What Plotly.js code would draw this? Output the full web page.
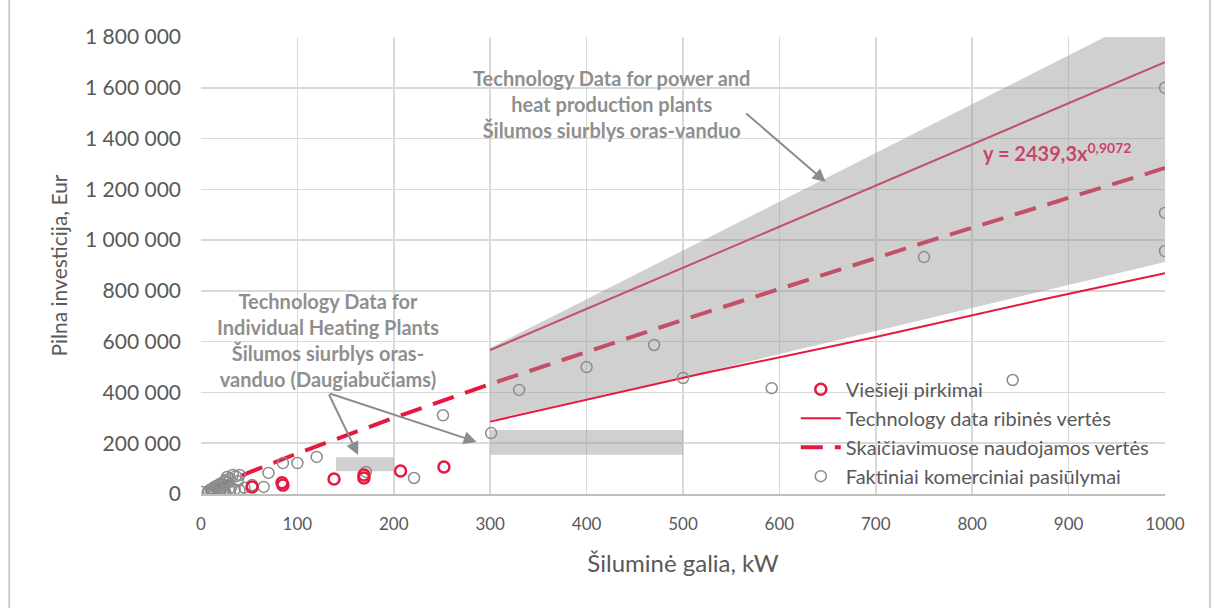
<!DOCTYPE html>
<html>
<head>
<meta charset="utf-8">
<script src="https://cdn.plot.ly/plotly-3.0.1.min.js"></script>
<style>html,body{margin:0;padding:0;background:#fff;}#chart{width:1218px;height:608px;}</style>
</head>
<body>
<div id="chart"></div>
<script>
// --- Data ---
const publicX = [53, 84, 85, 138, 169, 169, 207, 252];
const publicY = [28000, 44000, 35000, 59000, 75000, 63000, 91000, 106000];

const offerX = [1, 7, 8, 10, 11, 12, 13, 14, 15, 16, 17, 18, 19, 20, 21, 22, 23, 24, 25, 26, 27, 28, 30, 31, 33, 36, 38, 40, 20, 25, 30, 35, 40, 45,
  53, 65, 70, 85, 100, 120, 171, 221, 251, 301, 330, 400, 470, 500, 592, 750, 842, 1000, 1000, 1000];
const offerY = [8000, 6000, 12000, 18000, 8000, 22000, 15000, 28000, 10000, 32000, 20000, 25000, 38000, 20000, 42000, 30000, 12000, 48000, 35000, 55000, 67000, 45000, 60000, 25000, 75000, 70000, 50000, 75000, 5000, 8000, 10000, 18000, 15000, 25000,
  35000, 28000, 83000, 122000, 122000, 146000, 87000, 63000, 310000, 240000, 410000, 500000, 587000, 457000, 417000, 933000, 449000, 1600000, 1107000, 957000];

const calcX = [10, 50, 100, 200, 300, 500, 750, 1000];
const calcY = [20000, 85000, 160000, 300000, 433000, 686000, 990000, 1284000];

const techLowX = [300, 520, 700, 880, 1000];
const techLowY = [285000, 475000, 618000, 772000, 870000];
const techHighX = [300, 1000];
const techHighY = [567000, 1701000];

const bandX = [300, 1000, 1000, 700, 520, 300];
const bandY = [575000, 1920000, 914000, 640000, 478000, 290000];

const box1X = [140, 200, 200, 140];
const box1Y = [90000, 90000, 145000, 145000];
const box2X = [300, 500, 500, 300];
const box2Y = [155000, 155000, 252000, 252000];

const xTicks = [0, 100, 200, 300, 400, 500, 600, 700, 800, 900, 1000];
const yTicks = [0, 200000, 400000, 600000, 800000, 1000000, 1200000, 1400000, 1600000, 1800000];

const names = ['Viešieji pirkimai', 'Technology data ribinės vertės', 'Skaičiavimuose naudojamos vertės', 'Faktiniai komerciniai pasiūlymai'];

// --- Styles ---
const RED = '#E8173F';
const GRAYM = '#8C8C8C';
const BAND = 'rgba(150,150,150,0.45)';
const TXT = '#595959';

const traces = [
  {x: techHighX, y: techHighY, mode: 'lines', line: {color: RED, width: 2}, showlegend: false, legendgroup: 'tech', hoverinfo: 'skip'},
  {x: calcX, y: calcY, mode: 'lines', name: names[2], legendrank: 3, line: {color: RED, width: 4, dash: '22px,12px'}},
  {x: bandX, y: bandY, mode: 'lines', fill: 'toself', fillcolor: BAND, line: {width: 0}, showlegend: false, hoverinfo: 'skip'},
  {x: box1X, y: box1Y, mode: 'lines', fill: 'toself', fillcolor: BAND, line: {width: 0}, showlegend: false, hoverinfo: 'skip'},
  {x: box2X, y: box2Y, mode: 'lines', fill: 'toself', fillcolor: BAND, line: {width: 0}, showlegend: false, hoverinfo: 'skip'},
  {x: techLowX, y: techLowY, mode: 'lines', name: names[1], legendrank: 2, legendgroup: 'tech', line: {color: RED, width: 2}},
  {x: offerX, y: offerY, mode: 'markers', name: names[3], legendrank: 4, marker: {symbol: 'circle-open', size: 11, color: GRAYM, line: {width: 1.5}}},
  {x: publicX, y: publicY, mode: 'markers', name: names[0], legendrank: 1, marker: {symbol: 'circle-open', size: 11, color: RED, line: {width: 2.5}}}
];

const annFont = {family: 'Lato', size: 20, color: '#8F8F8F', weight: 'bold'};
const layout = {
  width: 1218, height: 608,
  margin: {l: 201, r: 53, t: 37, b: 114},
  paper_bgcolor: '#fff', plot_bgcolor: '#fff',
  separators: ', ',
  showlegend: true,
  legend: {x: 0.617, y: 0.272, xanchor: 'left', yanchor: 'top', bgcolor: 'rgba(0,0,0,0)',
    font: {family: 'Lato', size: 20, color: TXT}, tracegroupgap: 0, itemwidth: 40},
  xaxis: {range: [0, 1000], tickvals: xTicks, tickformat: 'd', showgrid: true, gridcolor: '#D9D9D9', gridwidth: 1.5,
    zeroline: false, showline: true, linecolor: '#BFBFBF', linewidth: 1.5, ticks: '',
    tickfont: {family: 'Lato', size: 17, color: TXT}, ticklabelstandoff: 14,
    title: {text: 'Šiluminė galia, kW', font: {family: 'Lato', size: 24, color: TXT}, standoff: 22}},
  yaxis: {range: [0, 1800000], tickvals: yTicks, tickformat: ',d', showgrid: true, gridcolor: '#D9D9D9', gridwidth: 1.5,
    zeroline: false, showline: false, ticks: '',
    tickfont: {family: 'Lato', size: 21, color: TXT}, ticklabelstandoff: 19,
    title: {text: 'Pilna investicija, Eur', font: {family: 'Lato', size: 21, color: TXT}, standoff: 11}},
  annotations: [
    {x: 426, y: 1536000, xref: 'x', yref: 'y', showarrow: false, align: 'center',
      text: 'Technology Data for power and<br>heat production plants<br>Šilumos siurblys oras-vanduo', font: annFont},
    {x: 132, y: 606000, xref: 'x', yref: 'y', showarrow: false, align: 'center',
      text: 'Technology Data for<br>Individual Heating Plants<br>Šilumos siurblys oras-<br>vanduo (Daugiabučiams)', font: annFont},
    {x: 648, y: 1229000, ax: 564, ay: 1504000, xref: 'x', yref: 'y', axref: 'x', ayref: 'y', text: '', showarrow: true,
      arrowhead: 2, arrowsize: 1.3, arrowwidth: 2, arrowcolor: GRAYM},
    {x: 163, y: 154000, ax: 132, ay: 398000, xref: 'x', yref: 'y', axref: 'x', ayref: 'y', text: '', showarrow: true,
      arrowhead: 2, arrowsize: 1.3, arrowwidth: 2, arrowcolor: GRAYM},
    {x: 286, y: 205000, ax: 132, ay: 398000, xref: 'x', yref: 'y', axref: 'x', ayref: 'y', text: '', showarrow: true,
      arrowhead: 2, arrowsize: 1.3, arrowwidth: 2, arrowcolor: GRAYM},
    {x: 888, y: 1347000, xref: 'x', yref: 'y', showarrow: false,
      text: 'y = 2439,3x<sup>0,9072</sup>', font: {family: 'Lato', size: 20, color: '#C9466A', weight: 'bold'}}
  ],
  shapes: [
    {type: 'line', xref: 'paper', yref: 'paper', x0: -0.199, x1: -0.199, y0: -0.26, y1: 1.09, line: {color: '#D0D0D0', width: 2}},
    {type: 'line', xref: 'paper', yref: 'paper', x0: 1.0467, x1: 1.0467, y0: -0.26, y1: 1.09, line: {color: '#D0D0D0', width: 2}}
  ]
};

Plotly.newPlot('chart', traces, layout, {displayModeBar: false, staticPlot: true});
</script>
</body>
</html>
